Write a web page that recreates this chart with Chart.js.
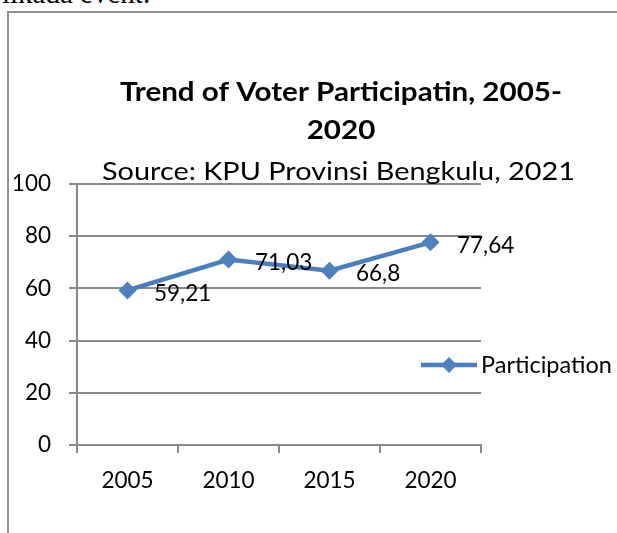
<!DOCTYPE html>
<html>
<head>
<meta charset="utf-8">
<script src="https://cdn.jsdelivr.net/npm/chart.js@4.4.1/dist/chart.umd.min.js"></script>
<style>
  html, body { margin:0; padding:0; background:#fff; }
  body { width:617px; height:533px; position:relative; overflow:hidden; }
  #toptext { position:absolute; left:2px; top:-23px; font-family:'Liberation Serif','Times New Roman',serif; font-size:29px; line-height:32px; color:#000; white-space:nowrap; }
  #frame { position:absolute; left:7px; top:11px; width:620px; height:540px; border-left:2px solid #8f8f8f; border-top:2px solid #8f8f8f; }
  #c { position:absolute; left:0; top:0; }
</style>
</head>
<body>
<div id="toptext">ilkada event.</div>
<div id="frame"></div>
<canvas id="c" width="617" height="533"></canvas>
<script>
const categories = ['2005', '2010', '2015', '2020'];
const participation = [59.21, 71.03, 66.8, 77.64];
const valueLabels = ['59,21', '71,03', '66,8', '77,64'];
const seriesName = 'Participation';
const titleLines = ['Trend of Voter Participatin, 2005-', '2020'];
const subtitleText = 'Source: KPU Provinsi Bengkulu, 2021';
const yMin = 0, yMax = 100, yStep = 20;

const FONT = "Lato, 'Open Sans', sans-serif";
const LINE_COLOR = '#4A7EBB';
const MARK_COLOR = '#4F81BD';
const GRID = '#898989';

function diamond(ctx, x, y, r) {
  ctx.beginPath();
  ctx.moveTo(x, y - r);
  ctx.lineTo(x + r, y);
  ctx.lineTo(x, y + r);
  ctx.lineTo(x - r, y);
  ctx.closePath();
  ctx.fill();
}

// draw text centred at cx, horizontally scaled by sx
function scaledText(ctx, text, cx, y, sx) {
  ctx.save();
  ctx.translate(cx, y);
  ctx.scale(sx, 1);
  ctx.fillText(text, 0, 0);
  ctx.restore();
}

const overlay = {
  id: 'overlay',
  afterDraw(chart) {
    const ctx = chart.ctx;
    ctx.save();
    ctx.fillStyle = '#000';
    // title
    ctx.textAlign = 'center';
    ctx.textBaseline = 'alphabetic';
    ctx.font = "bold 26.5px " + FONT;
    const tsx = 442 / ctx.measureText(titleLines[0]).width;
    scaledText(ctx, titleLines[0], 341, 101, tsx);
    scaledText(ctx, titleLines[1], 341, 139, tsx);
    ctx.font = "25.5px " + FONT;
    const ssx = 473 / ctx.measureText(subtitleText).width;
    scaledText(ctx, subtitleText, 338.5, 180, ssx);
    // data labels
    const meta = chart.getDatasetMeta(0);
    ctx.font = "22.5px " + FONT;
    ctx.textAlign = 'left';
    ctx.textBaseline = 'middle';
    meta.data.forEach((p, i) => {
      ctx.fillText(valueLabels[i], p.x + 26.5, p.y + 3);
    });
    // legend
    const ly = 365;
    ctx.strokeStyle = LINE_COLOR;
    ctx.lineWidth = 4.5;
    ctx.beginPath();
    ctx.moveTo(421, ly);
    ctx.lineTo(477, ly);
    ctx.stroke();
    ctx.fillStyle = MARK_COLOR;
    diamond(ctx, 449, ly, 8);
    ctx.fillStyle = '#000';
    ctx.font = "23.5px " + FONT;
    ctx.fillText(seriesName, 481, ly);
    ctx.restore();
  }
};

new Chart(document.getElementById('c'), {
  type: 'line',
  data: {
    labels: categories,
    datasets: [{
      label: seriesName,
      data: participation,
      borderColor: LINE_COLOR,
      backgroundColor: MARK_COLOR,
      borderWidth: 4.5,
      pointStyle: 'rectRot',
      pointRadius: 9,
      pointHoverRadius: 9,
      pointBorderWidth: 0,
      pointBackgroundColor: MARK_COLOR,
      tension: 0,
      clip: false
    }]
  },
  options: {
    responsive: false,
    animation: false,
    events: [],
    layout: { padding: { top: 184, right: 136, left: 0, bottom: 0 } },
    plugins: { legend: { display: false }, title: { display: false }, tooltip: { enabled: false } },
    scales: {
      x: {
        offset: true,
        grid: { offset: true, drawOnChartArea: false, drawTicks: true, tickLength: 8, color: GRID, lineWidth: 2 },
        border: { color: GRID, width: 2 },
        ticks: { font: { family: FONT, size: 22.5 }, color: '#000', padding: 14, maxRotation: 0 },
        afterFit(s) { s.height = 88; }
      },
      y: {
        min: yMin, max: yMax,
        grid: { color: GRID, lineWidth: 2, tickLength: 8 },
        border: { color: GRID, width: 2 },
        ticks: { stepSize: yStep, font: { family: FONT, size: 22.5 }, color: '#000', padding: 18 },
        afterFit(s) { s.width = 77; }
      }
    }
  },
  plugins: [overlay]
});
</script>
</body>
</html>
